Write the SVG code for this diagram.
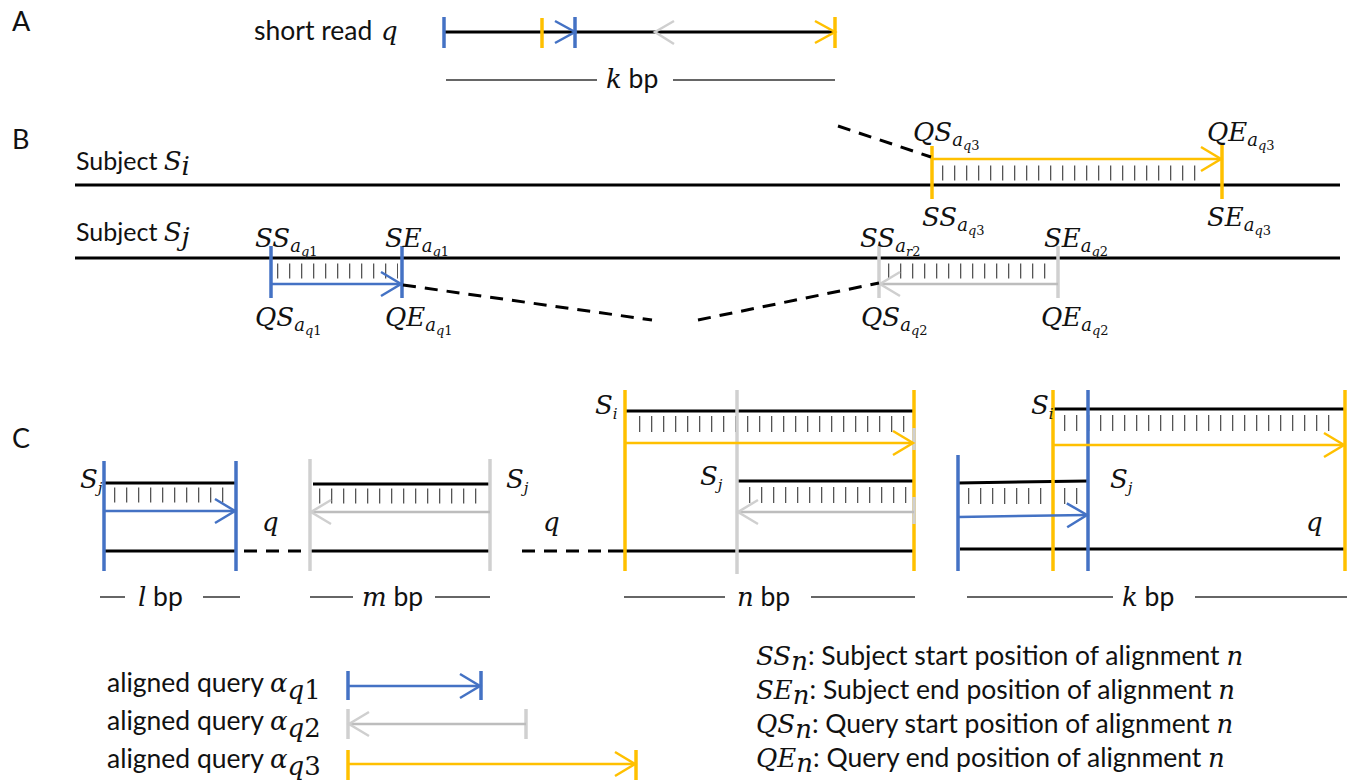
<svg xmlns="http://www.w3.org/2000/svg" width="1362" height="780" viewBox="0 0 1362 780">
<style>
.t{font-family:Lato,"Liberation Sans",sans-serif;font-size:26.5px;fill:#111}
.ts{font-family:Lato,"Liberation Sans",sans-serif;font-size:25px;fill:#111}
.pl{font-family:Lato,"Liberation Sans",sans-serif;font-size:27px;fill:#111}
.m{font-family:"DejaVu Serif","Liberation Serif",serif;font-style:italic;font-size:26px;fill:#111}
.s1{font-size:18px}
.s2{font-size:13px}
.up{font-style:normal}
.ln{stroke:#000;stroke-width:3;fill:none}
.dim{stroke:#333;stroke-width:1.5;fill:none}
.dash{stroke:#000;stroke-width:3;stroke-dasharray:13 9;fill:none}
.hat{stroke:#555;stroke-width:15;stroke-dasharray:1.3 10.7;fill:none}
.hat2{stroke:#555;stroke-width:16;stroke-dasharray:1.3 10.7;fill:none}
.bt{stroke:#4472C4;stroke-width:3.5;fill:none}
.yt{stroke:#FFC000;stroke-width:3.5;fill:none}
.gt{stroke:#D0D0D0;stroke-width:3.5;fill:none}
.ba{stroke:#4472C4;stroke-width:2.5;fill:none;marker-end:url(#mb)}
.ya{stroke:#FFC000;stroke-width:2.5;fill:none;marker-end:url(#my)}
.ga{stroke:#BDBDBD;stroke-width:2.5;fill:none;marker-end:url(#mg)}
.bc{stroke:#4472C4;stroke-width:2.5;fill:none}
.yc{stroke:#FFC000;stroke-width:2.5;fill:none}
.gc{stroke:#CFCFCF;stroke-width:2.5;fill:none}
</style>
<defs>
<marker id="mb" markerUnits="userSpaceOnUse" orient="auto" refX="0" refY="0" markerWidth="26" markerHeight="30" viewBox="-23 -15 26 30" overflow="visible"><path d="M-20,-12 L0,0 L-20,12" fill="none" stroke="#4472C4" stroke-width="2.5"/></marker>
<marker id="my" markerUnits="userSpaceOnUse" orient="auto" refX="0" refY="0" markerWidth="26" markerHeight="30" viewBox="-23 -15 26 30" overflow="visible"><path d="M-20,-12 L0,0 L-20,12" fill="none" stroke="#FFC000" stroke-width="2.5"/></marker>
<marker id="mg" markerUnits="userSpaceOnUse" orient="auto" refX="0" refY="0" markerWidth="26" markerHeight="30" viewBox="-23 -15 26 30" overflow="visible"><path d="M-20,-12 L0,0 L-20,12" fill="none" stroke="#CFCFCF" stroke-width="2.5"/></marker>
</defs>
<rect width="1362" height="780" fill="#fff"/>

<!-- Panel A -->
<g id="panelA">
<text class="pl" x="12" y="31">A</text>
<text class="t" x="254" y="40" font-size="27">short read</text>
<text class="m" x="381" y="40" font-size="27">q</text>
<line class="ln" x1="444" y1="32" x2="835" y2="32"/>
<line class="bt" x1="444" y1="17" x2="444" y2="48"/>
<line class="yt" x1="542" y1="18" x2="542" y2="48"/>
<line class="bt" x1="575" y1="17" x2="575" y2="48"/>
<path class="bc" d="M555,21 L575,32 L555,43"/>
<path class="gc" d="M674,21 L655,32 L674,44"/>
<line class="yt" x1="835" y1="17" x2="835" y2="48"/>
<path class="yc" d="M815,21 L835,32 L815,43"/>
<line class="dim" x1="446" y1="80" x2="597" y2="80"/>
<text x="606" y="88"><tspan class="m">k</tspan><tspan class="t" font-size="26"> bp</tspan></text>
<line class="dim" x1="673" y1="80" x2="835" y2="80"/>
</g>

<!-- Panel B -->
<g id="panelB">
<text class="pl" x="12" y="149">B</text>
<g id="subjectSi">
<text x="76" y="170"><tspan class="ts">Subject </tspan><tspan class="m" font-size="25">S</tspan><tspan class="m" font-size="16" dy="5">i</tspan></text>
<line class="ln" x1="75" y1="185" x2="1340" y2="185"/>
</g>
<g id="subjectSj">
<text x="76" y="241"><tspan class="ts">Subject </tspan><tspan class="m" font-size="25">S</tspan><tspan class="m" font-size="16" dy="5">j</tspan></text>
<line class="ln" x1="75" y1="258" x2="1340" y2="258"/>
</g>
<g id="alignB_q3">
<line class="hat" x1="942" y1="173" x2="1205" y2="173"/>
<line class="yt" x1="932" y1="146" x2="932" y2="199"/>
<line class="yt" x1="1222" y1="145" x2="1222" y2="199"/>
<line class="ya" x1="932" y1="159" x2="1221" y2="159"/>
<text class="m" x="913" y="141">QS<tspan class="s1" dy="5">a</tspan><tspan class="s2" dy="4">q<tspan class="up">3</tspan></tspan></text>
<text class="m" x="1207" y="141">QE<tspan class="s1" dy="5">a</tspan><tspan class="s2" dy="4">q<tspan class="up">3</tspan></tspan></text>
<text class="m" x="922" y="226">SS<tspan class="s1" dy="5">a</tspan><tspan class="s2" dy="4">q<tspan class="up">3</tspan></tspan></text>
<text class="m" x="1207" y="226">SE<tspan class="s1" dy="5">a</tspan><tspan class="s2" dy="4">q<tspan class="up">3</tspan></tspan></text>
</g>
<g id="alignB_q1">
<line class="hat" x1="277" y1="271" x2="398" y2="271"/>
<line class="bt" x1="271" y1="246" x2="271" y2="298"/>
<line class="bt" x1="402" y1="246" x2="402" y2="298"/>
<line class="ba" x1="271" y1="284" x2="401" y2="284"/>
<text class="m" x="255" y="247">SS<tspan class="s1" dy="5">a</tspan><tspan class="s2" dy="4">q<tspan class="up">1</tspan></tspan></text>
<text class="m" x="385" y="247">SE<tspan class="s1" dy="5">a</tspan><tspan class="s2" dy="4">q<tspan class="up">1</tspan></tspan></text>
<text class="m" x="255" y="326">QS<tspan class="s1" dy="5">a</tspan><tspan class="s2" dy="4">q<tspan class="up">1</tspan></tspan></text>
<text class="m" x="385" y="326">QE<tspan class="s1" dy="5">a</tspan><tspan class="s2" dy="4">q<tspan class="up">1</tspan></tspan></text>
</g>
<g id="alignB_q2">
<line class="hat" x1="888" y1="271" x2="1053" y2="271"/>
<line class="gt" x1="879" y1="246" x2="879" y2="298"/>
<line class="gt" x1="1058" y1="246" x2="1058" y2="298"/>
<line class="ga" x1="1058" y1="284" x2="880" y2="284"/>
<text class="m" x="860" y="247">SS<tspan class="s1" dy="5">a</tspan><tspan class="s2" dy="4">r<tspan class="up">2</tspan></tspan></text>
<text class="m" x="1044" y="247">SE<tspan class="s1" dy="5">a</tspan><tspan class="s2" dy="4">q<tspan class="up">2</tspan></tspan></text>
<text class="m" x="861" y="326">QS<tspan class="s1" dy="5">a</tspan><tspan class="s2" dy="4">q<tspan class="up">2</tspan></tspan></text>
<text class="m" x="1041" y="326">QE<tspan class="s1" dy="5">a</tspan><tspan class="s2" dy="4">q<tspan class="up">2</tspan></tspan></text>
</g>
</g>

<!-- Panel C -->
<g id="panelC">
<text class="pl" x="12" y="448">C</text>
<g id="c1">
<line class="hat" x1="114" y1="495" x2="234" y2="495"/>
<line class="ln" x1="104" y1="483" x2="236" y2="483"/>
<line class="ln" x1="104" y1="551" x2="236" y2="551"/>
<line class="bt" x1="104" y1="461" x2="104" y2="571"/>
<line class="bt" x1="236" y1="461" x2="236" y2="571"/>
<line class="ba" x1="104" y1="511" x2="235" y2="511"/>
<text class="m" x="80" y="488" font-size="22">S<tspan font-size="15" dy="5">j</tspan></text>
<text class="m" x="262" y="531" font-size="26">q</text>
<line class="dim" x1="100" y1="597" x2="125" y2="597"/>
<text x="138" y="606"><tspan class="m">l</tspan><tspan class="t" font-size="26"> bp</tspan></text>
<line class="dim" x1="203" y1="597" x2="240" y2="597"/>
</g>
<g id="c2">
<line class="hat" x1="319" y1="496" x2="486" y2="496"/>
<line class="ln" x1="313" y1="484" x2="490" y2="484"/>
<line class="ln" x1="310" y1="551" x2="490" y2="551"/>
<line class="gt" x1="310" y1="459" x2="310" y2="571"/>
<line class="gt" x1="490" y1="459" x2="490" y2="571"/>
<line class="ga" x1="490" y1="512" x2="311" y2="512"/>
<text class="m" x="506" y="488" font-size="22">S<tspan font-size="15" dy="5">j</tspan></text>
<text class="m" x="543" y="531" font-size="26">q</text>
<line class="dim" x1="310" y1="597" x2="353" y2="597"/>
<text x="362" y="606"><tspan class="m">m</tspan><tspan class="t" font-size="26"> bp</tspan></text>
<line class="dim" x1="435" y1="597" x2="490" y2="597"/>
</g>
<g id="c3">
<line class="hat2" x1="639" y1="424" x2="908" y2="424"/>
<line class="hat2" x1="749" y1="495" x2="908" y2="495"/>
<line class="ln" x1="625" y1="411" x2="914" y2="411"/>
<line class="ln" x1="737" y1="481" x2="914" y2="481"/>
<line class="ln" x1="608" y1="551" x2="914" y2="551"/>
<line class="gt" x1="737" y1="390" x2="737" y2="574"/>
<line class="yt" x1="625" y1="390" x2="625" y2="571"/>
<line class="yt" x1="914" y1="390" x2="914" y2="571"/>
<line class="gt" x1="914" y1="428" x2="914" y2="450"/>
<line class="gt" x1="914" y1="497" x2="914" y2="524"/>
<line class="ya" x1="625" y1="443" x2="913" y2="443"/>
<line class="ga" x1="914" y1="512" x2="738" y2="512"/>
<text class="m" x="595" y="414" font-size="22">S<tspan font-size="15" dy="5">i</tspan></text>
<text class="m" x="700" y="485" font-size="22">S<tspan font-size="15" dy="5">j</tspan></text>
<line class="dim" x1="624" y1="597" x2="725" y2="597"/>
<text x="737" y="606"><tspan class="m">n</tspan><tspan class="t" font-size="26"> bp</tspan></text>
<line class="dim" x1="811" y1="597" x2="915" y2="597"/>
</g>
<g id="c4">
<line class="hat2" x1="1064" y1="423" x2="1340" y2="423"/>
<line class="hat2" x1="968" y1="496" x2="1086" y2="496"/>
<line class="ln" x1="1053" y1="409" x2="1345" y2="409"/>
<line class="ln" x1="958" y1="483" x2="1088" y2="481"/>
<line class="ln" x1="960" y1="549" x2="1345" y2="549"/>
<line class="bt" x1="958" y1="455" x2="958" y2="571"/>
<line class="yt" x1="1053" y1="390" x2="1053" y2="571"/>
<line class="bt" x1="1088" y1="390" x2="1088" y2="571"/>
<line class="yt" x1="1345" y1="390" x2="1345" y2="571"/>
<line class="ya" x1="1053" y1="445" x2="1344" y2="445"/>
<line class="ba" x1="958" y1="517" x2="1087" y2="515"/>
<text class="m" x="1031" y="414" font-size="22">S<tspan font-size="15" dy="5">i</tspan></text>
<text class="m" x="1110" y="488" font-size="22">S<tspan font-size="15" dy="5">j</tspan></text>
<text class="m" x="1306" y="531" font-size="26">q</text>
<line class="dim" x1="967" y1="597" x2="1113" y2="597"/>
<text x="1122" y="606"><tspan class="m">k</tspan><tspan class="t" font-size="26"> bp</tspan></text>
<line class="dim" x1="1195" y1="597" x2="1347" y2="597"/>
</g>
</g>

<!-- Connectors -->
<g id="connectors">
<line class="dash" x1="838" y1="126" x2="931" y2="157"/>
<line class="dash" x1="403" y1="285" x2="652" y2="320"/>
<line class="dash" x1="698" y1="320" x2="879" y2="283"/>
<line class="dash" x1="244" y1="551" x2="310" y2="551"/>
<line class="dash" x1="522" y1="551" x2="606" y2="551"/>
</g>

<!-- Legends -->
<g id="legendQueries">
<text x="107" y="692"><tspan class="t">aligned query </tspan><tspan class="m">α</tspan><tspan class="m" font-size="17" dy="7">q<tspan class="up">1</tspan></tspan></text>
<line class="bt" x1="348" y1="671" x2="348" y2="700"/>
<line class="bt" x1="481" y1="671" x2="481" y2="700"/>
<line class="ba" x1="348" y1="686" x2="480" y2="686"/>
<text x="107" y="730"><tspan class="t">aligned query </tspan><tspan class="m">α</tspan><tspan class="m" font-size="17" dy="7">q<tspan class="up">2</tspan></tspan></text>
<line class="gt" x1="348" y1="709" x2="348" y2="739"/>
<line class="gt" x1="526" y1="709" x2="526" y2="739"/>
<line class="ga" x1="526" y1="724" x2="349" y2="724"/>
<text x="107" y="768"><tspan class="t">aligned query </tspan><tspan class="m">α</tspan><tspan class="m" font-size="17" dy="7">q<tspan class="up">3</tspan></tspan></text>
<line class="yt" x1="348" y1="750" x2="348" y2="780"/>
<line class="yt" x1="636" y1="750" x2="636" y2="780"/>
<line class="ya" x1="348" y1="764" x2="635" y2="764"/>
</g>
<g id="legendTerms">
<text x="756" y="665"><tspan class="m">SS</tspan><tspan class="m" font-size="17" dy="5">n</tspan><tspan class="t" dy="-5">: Subject start position of alignment </tspan><tspan class="m">n</tspan></text>
<text x="756" y="699"><tspan class="m">SE</tspan><tspan class="m" font-size="17" dy="5">n</tspan><tspan class="t" dy="-5">: Subject end position of alignment </tspan><tspan class="m">n</tspan></text>
<text x="756" y="733"><tspan class="m">QS</tspan><tspan class="m" font-size="17" dy="5">n</tspan><tspan class="t" dy="-5">: Query start position of alignment </tspan><tspan class="m">n</tspan></text>
<text x="756" y="767"><tspan class="m">QE</tspan><tspan class="m" font-size="17" dy="5">n</tspan><tspan class="t" dy="-5">: Query end position of alignment </tspan><tspan class="m">n</tspan></text>
</g>
</svg>
